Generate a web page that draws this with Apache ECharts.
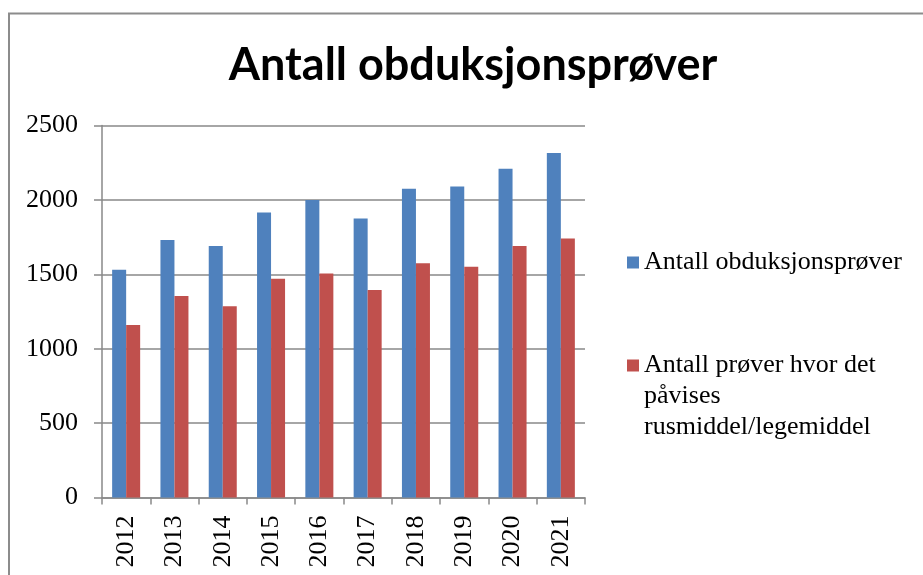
<!DOCTYPE html>
<html>
<head>
<meta charset="utf-8">
<script src="https://cdn.jsdelivr.net/npm/echarts@6/dist/echarts.min.js"></script>
<style>
  html, body { margin: 0; padding: 0; background: #fff; }
  #chart { width: 923px; height: 575px; }
</style>
</head>
<body>
<div id="chart"></div>
<script>
// data
const years = ['2012', '2013', '2014', '2015', '2016', '2017', '2018', '2019', '2020', '2021']
const obduksjoner = [1530, 1730, 1690, 1915, 2000, 1875, 2075, 2090, 2210, 2315]
const positive = [1160, 1355, 1285, 1470, 1505, 1395, 1575, 1550, 1690, 1740]
const yTicks = { min: 0, max: 2500, step: 500 }

const nameA = 'Antall obduksjonsprøver'
const nameB = 'Antall prøver hvor det påvises rusmiddel/legemiddel'

const serif = '"Liberation Serif", "Times New Roman", serif'
const gridGrey = '#898989'

const chart = echarts.init(document.getElementById('chart'))

chart.setOption({
  backgroundColor: '#fff',
  animation: false,
  title: {
    text: 'Antall obduksjonsprøver',
    left: 473,
    top: 43,
    textAlign: 'center',
    padding: 0,
    textStyle: { fontFamily: 'Lato', fontWeight: 'bold', fontSize: 45, color: '#000' }
  },
  graphic: [{
    type: 'rect',
    shape: { x: 9, y: 13.5, width: 930, height: 600 },
    style: { fill: 'none', stroke: '#8c8c8c', lineWidth: 2 },
    silent: true
  }],
  legend: [
    {
      data: [nameA],
      orient: 'vertical',
      left: 627,
      top: 247,
      padding: 0,
      icon: 'rect',
      itemWidth: 12,
      itemHeight: 12,
      textStyle: { fontFamily: serif, fontSize: 26, color: '#000', lineHeight: 31 }
    },
    {
      data: [nameB],
      orient: 'vertical',
      left: 627,
      top: 288,
      padding: 0,
      icon: 'rect',
      itemWidth: 12,
      itemHeight: 12,
      // two empty lines on top so the square sits on the first text line
      formatter: () => '\n\nAntall prøver hvor det\npåvises\nrusmiddel/legemiddel',
      textStyle: { fontFamily: serif, fontSize: 26, color: '#000', lineHeight: 31 }
    }
  ],
  grid: {
    left: 102,
    right: 338,
    top: 125.5,
    bottom: 77.5,
    containLabel: false,
    outerBoundsMode: 'none'
  },
  xAxis: {
    type: 'category',
    data: years,
    axisLine: { lineStyle: { color: gridGrey, width: 1.5 } },
    axisTick: { show: true, length: 7, lineStyle: { color: gridGrey, width: 1.5 } },
    axisLabel: { rotate: 90, margin: 18, fontFamily: serif, fontSize: 26, color: '#000' }
  },
  yAxis: {
    type: 'value',
    min: yTicks.min,
    max: yTicks.max,
    interval: yTicks.step,
    axisLine: { show: true, lineStyle: { color: gridGrey, width: 1.5 } },
    axisTick: { show: true, length: 8, lineStyle: { color: gridGrey, width: 1.5 } },
    splitLine: { lineStyle: { color: gridGrey, width: 1.5 } },
    axisLabel: {
      margin: 24,
      formatter: v => String(v),
      fontFamily: serif,
      fontSize: 26,
      color: '#000'
    }
  },
  series: [
    {
      name: nameA,
      type: 'bar',
      data: obduksjoner,
      barGap: '0%',
      barCategoryGap: '42%',
      itemStyle: { color: '#4F81BD' }
    },
    {
      name: nameB,
      type: 'bar',
      data: positive,
      itemStyle: { color: '#C0504D' }
    }
  ]
})
</script>
</body>
</html>
